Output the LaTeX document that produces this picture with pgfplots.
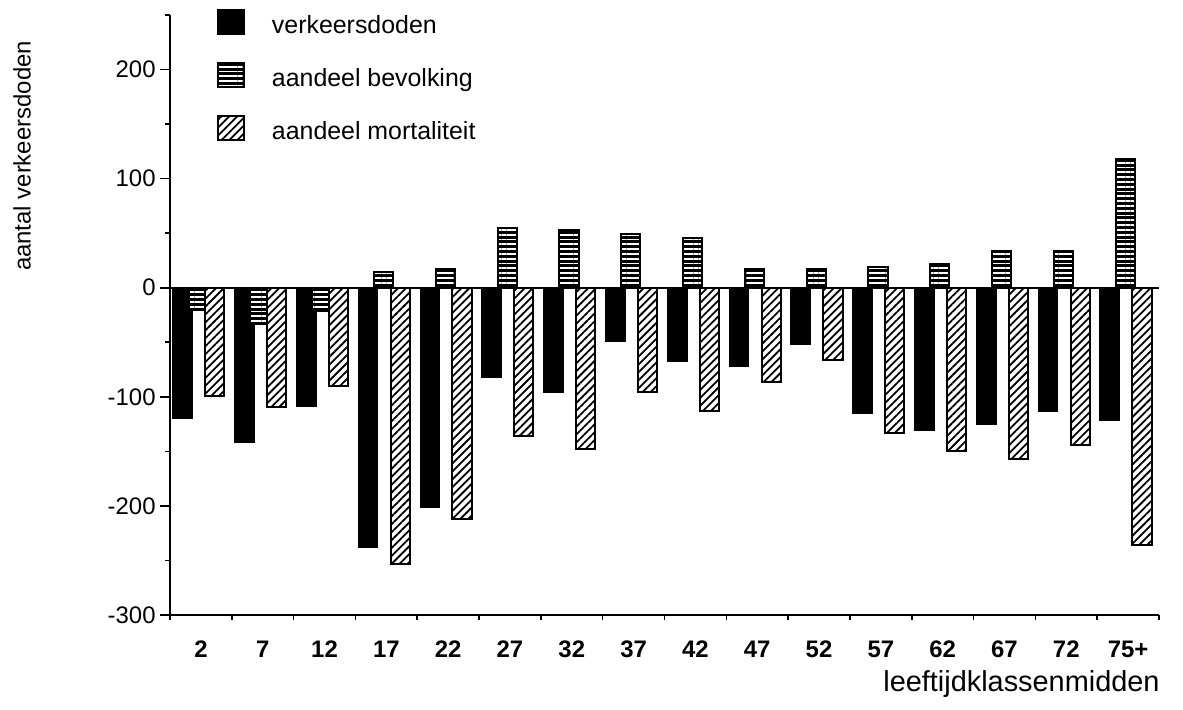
\documentclass[border=0pt]{standalone}
\usepackage{fontspec}
\setmainfont{Liberation Sans}
\usepackage{pgfplots}
\usepackage{pgfplotstable}
\pgfplotsset{compat=1.18}
\usetikzlibrary{patterns.meta}

\pgfplotstableread{
idx  black stripe hatch
0.5  -120  -20   -99
1.5  -142  -33   -109
2.5  -109  -21   -90
3.5  -238   14   -253
4.5  -201   17   -212
5.5  -82    55   -136
6.5  -96    53   -148
7.5  -49    49   -96
8.5  -67    46   -113
9.5  -72    17   -86
10.5 -52    17   -66
11.5 -115   19   -133
12.5 -131   22   -150
13.5 -125   34   -157
14.5 -113   34   -144
15.5 -121   118  -236
}\datatable

\begin{document}
\begin{tikzpicture}
\useasboundingbox (-85bp,-47.5bp) rectangle (506.5bp,307.5bp);
\begin{axis}[
  at={(0,0)}, anchor=south west,
  scale only axis, width=494.5bp, height=300bp,
  xmin=0, xmax=16, ymin=-300, ymax=250,
  axis lines=left,
  axis line style={-, line width=1bp},
  tick align=outside,
  tick style={black, line width=0.8bp},
  major tick length=5bp, minor tick length=2.5bp,
  ytick={-300,-200,...,200},
  minor ytick={-250,-150,...,250},
  xtick={0.5,1.5,...,15.5},
  xticklabels={2,7,12,17,22,27,32,37,42,47,52,57,62,67,72,75+},
  minor xtick={0,1,...,16},
  major x tick style={draw=none},
  /pgf/number format/assume math mode=true,
  yticklabel style={font=\fontsize{12}{14}\selectfont, inner sep=0pt, anchor=east, xshift=-2bp},
  xticklabel style={font=\bfseries\fontsize{12}{14}\selectfont, inner sep=0pt, anchor=base, yshift=-16bp},
  xlabel={leeftijdklassenmidden},
  x label style={at={(axis description cs:1.001,0)}, anchor=base east, inner sep=0pt, yshift=-38bp, font=\fontsize{14.5}{16}\selectfont},
  ylabel={aantal verkeersdoden},
  y label style={at={(axis description cs:-0.1496,0.765)}, anchor=center, inner sep=0pt, font=\fontsize{12}{14}\selectfont},
  legend image code/.code={\draw[#1] (0bp,-3bp) rectangle (13bp,9bp);},
  legend style={at={(axis description cs:0.0475,1.01)}, anchor=north west, draw=none, fill=none,
    inner sep=0pt, outer sep=0pt, row sep=11bp,
    font=\fontsize{12.5}{14}\selectfont,
    nodes={inner sep=0pt, text height=9bp, text depth=3bp},
    /tikz/every odd column/.append style={column sep=13.5bp}},
  legend cell align=left,
]
\addplot[ybar, bar width=0.31, bar shift=-0.295, fill=black, draw=black, line width=0.8bp]
  table[x=idx, y=black] {\datatable};
\addplot[ybar, bar width=0.31, bar shift=-0.045, draw=black, line width=1bp,
  preaction={fill=black}, pattern={Lines[angle=0,distance=2.4bp,line width=0.9bp]}, pattern color=white]
  table[x=idx, y=stripe] {\datatable};
\addplot[ybar, bar width=0.31, bar shift=0.225, draw=black, line width=1bp,
  preaction={fill=white}, pattern={Lines[angle=45,distance=2.8bp,line width=0.9bp]}, pattern color=black]
  table[x=idx, y=hatch] {\datatable};
\legend{verkeersdoden, aandeel bevolking, aandeel mortaliteit}
\draw[line width=1.2bp] (axis cs:0,0) -- (axis cs:16,0);
\end{axis}
\end{tikzpicture}
\end{document}
